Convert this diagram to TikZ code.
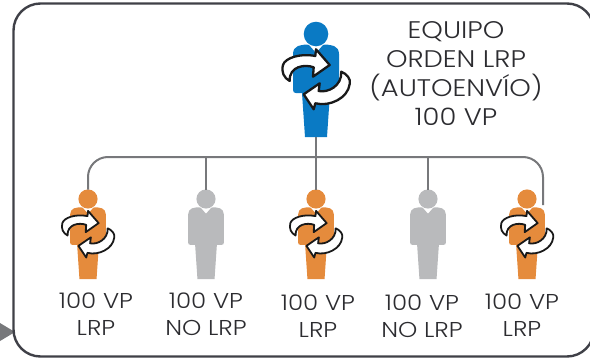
\documentclass[tikz,border=0pt]{standalone}
\usepackage{fontspec}
\setmainfont[FakeStretch=1.14]{Poppins Light}
\definecolor{bluep}{HTML}{0A7AC4}
\definecolor{orangep}{HTML}{E58B3C}
\definecolor{greyp}{HTML}{B9BABC}
\definecolor{linep}{HTML}{77787B}
\definecolor{framep}{HTML}{3F4047}
\definecolor{textp}{HTML}{2C2C30}
\tikzset{
  x=1pt,y=-1pt,
  link/.style={draw=linep,line width=2pt},
  lbl/.style={text=textp,font=\fontsize{21.5}{27}\selectfont,align=center,inner sep=0pt},
  toplbl/.style={text=textp,font=\fontsize{24}{29}\selectfont,align=center,inner sep=0pt},
  swirl/.style={fill=white,draw=black!90,line join=round},
  pics/figure/.style={code={
    \coordinate (-top) at (0,-12);
    \coordinate (-foot) at (0,103);
    \fill[#1] (0,0) circle (12.3);
    \fill[#1] (0,19) -- (-7,11) .. controls (-10,10) and (-14,11) .. (-18,12)
      .. controls (-21,13) and (-23,16) .. (-23,20) -- (-23,56)
      .. controls (-23,58) and (-22,59) .. (-20,59) -- (-14,59) -- (-11,103) -- (11,103) -- (14,59) -- (20,59)
      .. controls (22,59) and (23,58) .. (23,56) -- (23,20)
      .. controls (23,16) and (21,13) .. (18,12) .. controls (14,11) and (10,10) .. (7,11) -- cycle;
  }},
  pics/swirls/.style={code={
    \path[swirl,line width=#1] (-26.3,47) .. controls (-32,44) and (-35,38) .. (-33,31)
      .. controls (-31,24) and (-16,19) .. (-0.7,22) -- (0,15.3) -- (13.7,31) -- (-3,42.7) -- (-2.3,33.3)
      .. controls (-11,30) and (-27,32) .. (-26.3,47) -- cycle;
    \path[swirl,line width=#1] (25.3,37.7) .. controls (31,40) and (35,45) .. (33.7,50)
      .. controls (32,64) and (14,73) .. (-0.7,69.3) -- (-2.3,75.3) -- (-12.3,60.3) -- (3.7,49.3) -- (2.7,57)
      .. controls (12,59) and (26,52) .. (25.3,37.7) -- cycle;
  }}
}
\begin{document}
\begin{tikzpicture}
\useasboundingbox (0,0) rectangle (590,359);
\clip (0,0) rectangle (590,359);
\fill[linep] (0,323) -- (15,332) -- (0,341) -- cycle;
\draw[draw=framep,line width=2.4pt,rounded corners=27pt] (13.5,3.5) rectangle (594,356.5);

\pic (m) at (316,34) {figure={bluep}};
\pic[scale=.777] (a) at (88,199) {figure={orangep}};
\pic[scale=.777] (b) at (206,199) {figure={greyp}};
\pic[scale=.777] (c) at (316,199) {figure={orangep}};
\pic[scale=.777] (d) at (428,199) {figure={greyp}};
\pic[scale=.777] (e) at (527,199) {figure={orangep}};

\coordinate (ee) at (543,205);
\draw[link] (m-foot) -- (c-top);
\draw[link,rounded corners=20pt] (a-top) -- (88,157) -- (543,157) -- (ee);
\draw[link] (206,157) -- (b-top);
\draw[link] (428,157) -- (d-top);

\pic at (316,34) {swirls=2.3pt};
\pic[scale=.777] at (88,199) {swirls=1.8pt};
\pic[scale=.777] at (316,199) {swirls=1.8pt};
\pic[scale=.777] at (527,199) {swirls=1.8pt};

\node[toplbl] (t) at (456,74) {EQUIPO\\ORDEN LRP\\(AUTOENVÍO)\\100 VP};
\node[lbl] (l1) at (96,314) {100 VP\\LRP};
\node[lbl] (l2) at (206,314) {100 VP\\NO LRP};
\node[lbl] (l3) at (318,316) {100 VP\\LRP};
\node[lbl] (l4) at (422,316) {100 VP\\NO LRP};
\node[lbl] (l5) at (522,315) {100 VP\\LRP};
\end{tikzpicture}
\end{document}
